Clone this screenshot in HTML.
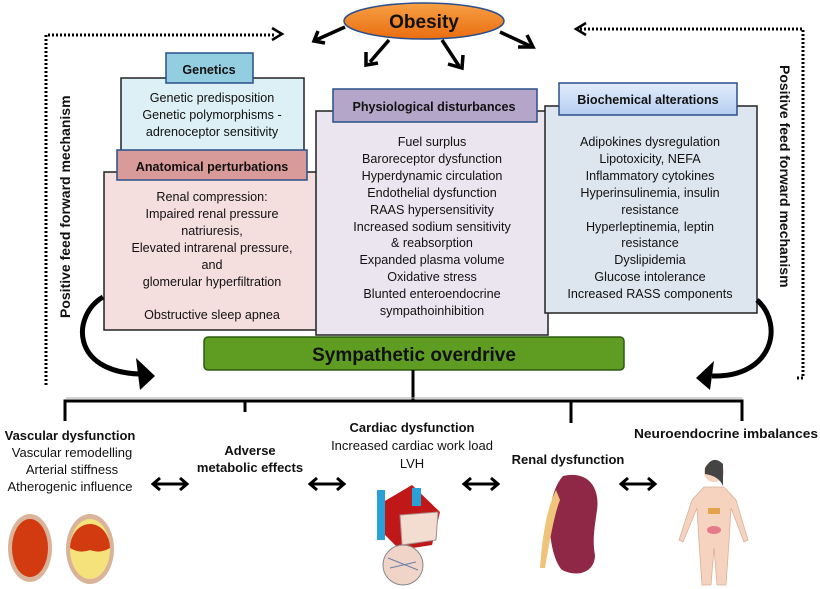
<!DOCTYPE html>
<html><head><meta charset="utf-8"><style>
body{margin:0;background:#fff}
svg{display:block}
text{font-family:"Liberation Sans",sans-serif;fill:#111}
.c{text-anchor:middle;font-size:12.6px}
.n{font-family:"Liberation Sans Narrow","Liberation Sans",sans-serif;text-anchor:middle;font-size:13px}
.b{font-weight:bold}
</style></head><body>
<svg width="820" height="589" viewBox="0 0 820 589" xmlns="http://www.w3.org/2000/svg">
<defs>
<linearGradient id="og" x1="0" y1="0" x2="0" y2="1"><stop offset="0" stop-color="#f7a045"/><stop offset="1" stop-color="#ea6d10"/></linearGradient>
<linearGradient id="bg" x1="0" y1="0" x2="0" y2="1"><stop offset="0" stop-color="#e3eefb"/><stop offset="1" stop-color="#b4cdf0"/></linearGradient>
</defs>
<path d="M46,385 V35 H275" fill="none" stroke="#000" stroke-width="3" stroke-dasharray="2,2"/>
<path d="M272,28 L282,34 L272,40" fill="none" stroke="#000" stroke-width="2.5"/>
<path d="M580,29 H803 V378 H795" fill="none" stroke="#000" stroke-width="3" stroke-dasharray="2,2"/>
<path d="M586,23 L576,29 L586,35" fill="none" stroke="#000" stroke-width="2.5"/>
<text transform="translate(70,318) rotate(-90)" class="b" style="font-size:14px">Positive feed forward mechanism</text>
<text transform="translate(780,65) rotate(90)" class="b" style="font-size:14px">Positive feed forward mechanism</text>
<ellipse cx="424" cy="21" rx="80" ry="18" fill="url(#og)" stroke="#2a4f8a" stroke-width="1.5"/>
<text x="424" y="28" class="b" text-anchor="middle" style="font-size:19px">Obesity</text>
<g stroke="#000" stroke-width="3.5" fill="none">
<path d="M345,27 L316,40"/><path d="M318,31 L314,41 L325,43"/>
<path d="M389,40 L370,62"/><path d="M366,52 L366,65 L378,63"/>
<path d="M442,40 L459,66"/><path d="M448,64 L462,68 L463,55"/>
<path d="M500,32 L530,46"/><path d="M518,47 L533,47 L527,35"/>
</g>
<rect x="121" y="78" width="183" height="73" fill="#ddf0f6" stroke="#222" stroke-width="1.5"/>
<rect x="166" y="53" width="87" height="30" fill="#93cde0" stroke="#2a4f8a" stroke-width="1.5"/>
<text x="209" y="74" class="c b">Genetics</text>
<text x="212" y="102" class="c">Genetic predisposition</text>
<text x="212" y="119" class="c">Genetic polymorphisms -</text>
<text x="212" y="136" class="c">adrenoceptor sensitivity</text>
<rect x="104" y="172" width="213" height="158" fill="#f5dede" stroke="#222" stroke-width="1.5"/>
<rect x="117" y="150" width="190" height="30" fill="#d99a9a" stroke="#2a4f8a" stroke-width="1.5"/>
<text x="212" y="171" class="c b">Anatomical perturbations</text>
<text x="212" y="201" class="c">Renal compression:</text>
<text x="212" y="218" class="c">Impaired renal pressure</text>
<text x="212" y="235" class="c">natriuresis,</text>
<text x="212" y="252" class="c">Elevated intrarenal pressure,</text>
<text x="212" y="269" class="c">and</text>
<text x="212" y="286" class="c">glomerular hyperfiltration</text>
<text x="212" y="319" class="c">Obstructive sleep apnea</text>
<rect x="316" y="111" width="232" height="224" fill="#ebe5ef" stroke="#222" stroke-width="1.5"/>
<rect x="333" y="89" width="204" height="33" fill="#b3a6c8" stroke="#2a4f8a" stroke-width="1.5"/>
<text x="434" y="111" class="c b">Physiological disturbances</text>
<text x="432" y="146" class="c">Fuel surplus</text>
<text x="432" y="163" class="c">Baroreceptor dysfunction</text>
<text x="432" y="180" class="c">Hyperdynamic circulation</text>
<text x="432" y="197" class="c">Endothelial dysfunction</text>
<text x="432" y="214" class="c">RAAS hypersensitivity</text>
<text x="432" y="231" class="c">Increased sodium sensitivity</text>
<text x="432" y="247" class="c">&amp; reabsorption</text>
<text x="432" y="264" class="c">Expanded plasma volume</text>
<text x="432" y="281" class="c">Oxidative stress</text>
<text x="432" y="298" class="c">Blunted enteroendocrine</text>
<text x="432" y="315" class="c">sympathoinhibition</text>
<rect x="545" y="106" width="212" height="207" fill="#dde6ef" stroke="#222" stroke-width="1.5"/>
<rect x="559" y="83" width="178" height="32" fill="url(#bg)" stroke="#2a4f8a" stroke-width="1.5"/>
<text x="648" y="104" class="c b">Biochemical alterations</text>
<text x="650" y="146" class="c">Adipokines dysregulation</text>
<text x="650" y="163" class="c">Lipotoxicity, NEFA</text>
<text x="650" y="180" class="c">Inflammatory cytokines</text>
<text x="650" y="197" class="c">Hyperinsulinemia, insulin</text>
<text x="650" y="214" class="c">resistance</text>
<text x="650" y="231" class="c">Hyperleptinemia, leptin</text>
<text x="650" y="247" class="c">resistance</text>
<text x="650" y="264" class="c">Dyslipidemia</text>
<text x="650" y="281" class="c">Glucose intolerance</text>
<text x="650" y="298" class="c">Increased RASS components</text>
<rect x="204" y="337" width="420" height="33" rx="4" fill="#5f9d22" stroke="#2e5a10" stroke-width="1.5"/>
<text x="414" y="361" class="b" text-anchor="middle" style="font-size:19px">Sympathetic overdrive</text>
<path d="M103,297 C72,315 70,372 140,374" fill="none" stroke="#000" stroke-width="5"/>
<path d="M136,358 L155,376 L140,390 Z" fill="#000"/>
<path d="M757,300 C785,325 772,378 712,376" fill="none" stroke="#000" stroke-width="5"/>
<path d="M714,361 L696,378 L710,390 Z" fill="#000"/>
<g stroke="#000" stroke-width="3" fill="none">
<path d="M413,370 V401"/>
<path d="M65,421 V401 H742 V421"/>
<path d="M245,401 V412"/><path d="M571,401 V423"/>
</g>
<path d="M66,398 H742" stroke="#aaa" stroke-width="1"/>
<text x="70" y="440" class="n b">Vascular dysfunction</text>
<text x="72" y="457" class="n">Vascular remodelling</text>
<text x="72" y="474" class="n">Arterial stiffness</text>
<text x="70" y="491" class="n">Atherogenic influence</text>
<text x="250" y="455" class="n b">Adverse</text>
<text x="250" y="472" class="n b">metabolic effects</text>
<text x="412" y="432" class="n b">Cardiac dysfunction</text>
<text x="412" y="450" class="n">Increased cardiac work load</text>
<text x="412" y="468" class="n">LVH</text>
<text x="568" y="464" class="n b">Renal dysfunction</text>
<text x="726" y="438" class="n b" textLength="184" lengthAdjust="spacingAndGlyphs">Neuroendocrine imbalances</text>
<g stroke="#000" stroke-width="3" fill="none">
<path d="M155,484 H185"/><path d="M160,478 L153,484 L160,490 M180,478 L187,484 L180,490"/>
<path d="M312,484 H342"/><path d="M317,478 L310,484 L317,490 M337,478 L344,484 L337,490"/>
<path d="M466,484 H496"/><path d="M471,478 L464,484 L471,490 M491,478 L498,484 L491,490"/>
<path d="M623,484 H653"/><path d="M628,478 L621,484 L628,490 M648,478 L655,484 L648,490"/>
</g>
<ellipse cx="30" cy="548" rx="22" ry="34" fill="#d9b49a"/>
<ellipse cx="30" cy="548" rx="18" ry="29" fill="#d23a10"/>
<ellipse cx="90" cy="549" rx="24" ry="35" fill="#d9b49a"/>
<ellipse cx="90" cy="549" rx="20" ry="30" fill="#f5e27a"/>
<path d="M70,548 a20,24 0 0 1 40,0 q-10,6 -20,2 q-10,4 -20,-2z" fill="#d23a10"/>
<path d="M378,505 L412,485 L440,512 L432,545 L400,550 L380,530 Z" fill="#c01818"/>
<path d="M400,515 L438,512 L436,540 L402,545 Z" fill="#f3dcd0" stroke="#a88" stroke-width="1"/>
<rect x="377" y="490" width="8" height="50" fill="#2aa0d8"/>
<rect x="412" y="488" width="9" height="18" fill="#2aa0d8"/>
<circle cx="403" cy="565" r="20" fill="#f0d4c8" stroke="#888"/>
<path d="M388,558 L418,570 M390,568 L416,562" stroke="#6a7fa8" stroke-width="1"/>
<path d="M563,476 C590,470 600,490 597,510 C595,525 592,540 595,555 C595,572 578,578 562,570 C548,555 543,498 563,476 Z" fill="#8e2846"/>
<path d="M556,490 C546,510 542,540 540,568 L545,568 C550,540 554,515 560,500 Z" fill="#f0c37a"/>
<circle cx="714" cy="472" r="10" fill="#f5d3bf"/>
<path d="M705,468 q8,-14 18,-4 l0,22 q-4,-10 -18,-12z" fill="#444"/>
<path d="M704,487 L724,487 L736,500 L748,540 L744,542 L731,508 L729,542 L726,585 L717,585 L714,548 L711,585 L702,585 L699,542 L697,508 L683,542 L679,540 L692,500 Z" fill="#f5d3bf" stroke="#d9b09a" stroke-width="0.8"/>
<rect x="708" y="508" width="12" height="6" fill="#e2a34a"/>
<ellipse cx="714" cy="530" rx="7" ry="4" fill="#e57a8a"/>
</svg>
</body></html>
